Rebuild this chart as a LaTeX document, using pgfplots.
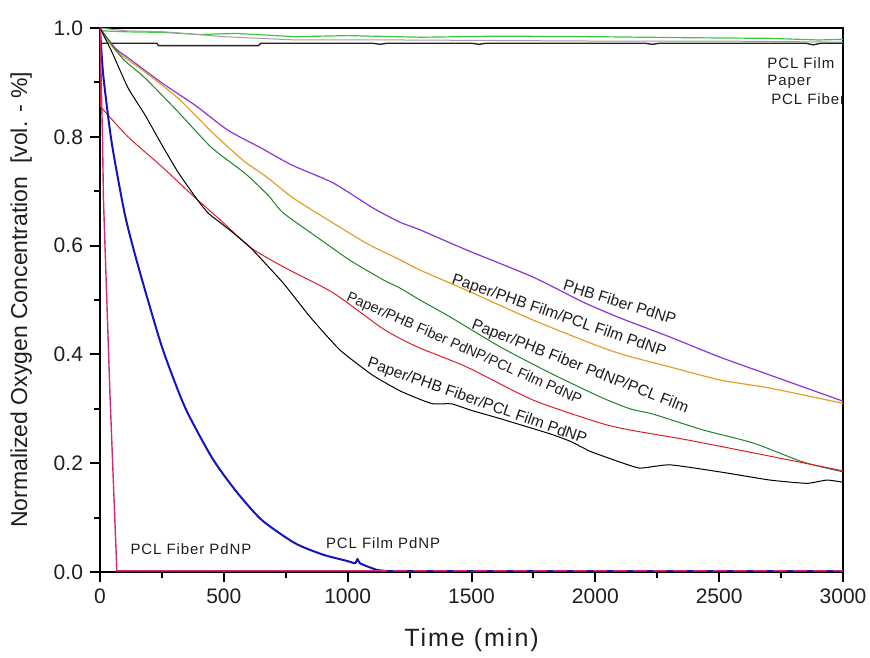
\documentclass[border=0pt]{standalone}
\usepackage{fontspec}
\setmainfont{Liberation Sans}
\usepackage{pgfplots}
\pgfplotsset{compat=1.18}

\definecolor{cPurple}{RGB}{140,50,220}
\definecolor{cOrange}{RGB}{225,160,40}
\definecolor{cGreen}{RGB}{30,130,40}
\definecolor{cRed}{RGB}{220,30,40}
\definecolor{cBlue}{RGB}{20,20,190}
\definecolor{cMag}{RGB}{215,40,120}
\definecolor{cLime}{RGB}{60,200,60}
\definecolor{cGray}{RGB}{165,155,170}
\definecolor{cText}{RGB}{30,30,30}

\begin{document}
\begin{tikzpicture}
\begin{axis}[
    scale only axis,
    width=371.5pt,
    height=272pt,
    xmin=0, xmax=3000,
    ymin=0, ymax=1.0,
    xtick={0,500,...,3000},
    ytick={0,0.2,...,1.0},
    minor x tick num=1,
    minor y tick num=1,
    tick align=outside,
    xtick pos=bottom,
    ytick pos=left,
    major tick length=5pt,
    minor tick length=3pt,
    tick style={black, line width=1pt},
    axis line style={black, line width=1.3pt},
    /pgf/number format/assume math mode=true,
    yticklabel style={/pgf/number format/.cd,fixed,fixed zerofill,precision=1},
    xticklabel style={/pgf/number format/.cd,fixed,1000 sep={}},
    ticklabel style={font=\fontsize{10.5}{12}\selectfont, text=cText},
    xlabel={Time (min)},
    ylabel={Normalized Oxygen Concentration\ \ [vol. - \%]},
    xlabel style={font=\fontsize{12.5}{15}\selectfont\addfontfeatures{LetterSpace=8}, text=cText,
        at={(axis description cs:0.5,-0.125)}, anchor=center},
    ylabel style={font=\fontsize{11.5}{14}\selectfont, text=cText,
        at={(axis description cs:-0.106,0.5)}, anchor=center},
    every axis plot/.append style={line join=round},
]
\coordinate (ll) at (rel axis cs:0,0);
\coordinate (ur) at (rel axis cs:1,1);

% PCL Film
\addplot[cLime, line width=0.6pt] coordinates {
(0,0.995) (100,0.993) (250,0.992) (400,0.988) (550,0.990) (787,0.984) (1000,0.986)
(1300,0.983) (1600,0.985) (2000,0.984) (2400,0.982) (2700,0.981) (2900,0.978) (3000,0.979)};
% Paper
\addplot[cGray, line width=0.5pt] coordinates {
(0,1.0) (100,0.995) (262,0.993) (500,0.984) (787,0.978) (1200,0.978) (1600,0.977)
(2000,0.976) (2500,0.976) (3000,0.974)};
% PCL Fiber
\addplot[black!85, line width=0.7pt] coordinates {
(0,0.972) (230,0.972) (236,0.9675) (640,0.9675) (650,0.972) (1100,0.972) (1130,0.970)
(1160,0.972) (1500,0.972) (1530,0.970) (1560,0.972) (2200,0.972) (2230,0.970) (2260,0.972)
(2850,0.972) (2880,0.969) (2910,0.972) (3000,0.972)};

% PHB Fiber PdNP
\addplot[cPurple, line width=0.6pt, smooth, tension=0.4] coordinates {
(0,1.0) (61,0.963) (114,0.945) (250,0.899) (384,0.858) (517,0.812) (652,0.779) (775,0.748)
(942,0.715) (1103,0.669) (1211,0.643) (1292,0.629) (1480,0.592) (1749,0.542) (1951,0.496)
(2100,0.467) (2301,0.432) (2503,0.395) (2705,0.362) (3000,0.314)};
% Paper/PHB Film/PCL Film PdNP
\addplot[cOrange, line width=0.6pt, smooth, tension=0.4] coordinates {
(0,1.0) (60,0.960) (182,0.919) (315,0.871) (451,0.809) (525,0.778) (585,0.754) (673,0.726)
(775,0.689) (875,0.660) (1077,0.604) (1211,0.574) (1292,0.555) (1480,0.518) (1749,0.463)
(2019,0.414) (2140,0.396) (2301,0.377) (2503,0.353) (2705,0.338) (3000,0.310)};
% Paper/PHB Fiber PdNP/PCL Film
\addplot[cGreen, line width=0.5pt, smooth, tension=0.4] coordinates {
(0,1.0) (89,0.945) (182,0.908) (315,0.846) (451,0.780) (585,0.733) (678,0.693) (740,0.660)
(875,0.616) (1009,0.573) (1144,0.537) (1211,0.522) (1292,0.500) (1413,0.469) (1615,0.414)
(1817,0.366) (2019,0.322) (2140,0.300) (2235,0.290) (2436,0.261) (2638,0.237) (2840,0.202)
(3000,0.184)};
% Paper/PHB Fiber PdNP/PCL Film PdNP
\addplot[cRed, line width=0.5pt] coordinates {(0,1.0) (3,0.855)};
\addplot[cRed, line width=0.5pt, smooth, tension=0.4] coordinates {
(3,0.855) (113,0.800) (250,0.745) (384,0.688) (491,0.645) (606,0.597) (740,0.561)
(942,0.513) (1143,0.447) (1280,0.414) (1480,0.377) (1749,0.316) (2019,0.274) (2140,0.261)
(2369,0.243) (2638,0.219) (3000,0.186)};
% Paper/PHB Fiber/PCL Film PdNP
\addplot[black, line width=0.5pt, smooth, tension=0.3] coordinates {
(0,1.0) (48,0.956) (113,0.890) (182,0.840) (250,0.785) (315,0.735) (384,0.690) (436,0.660)
(520,0.630) (606,0.597) (740,0.531) (848,0.469) (969,0.408) (1100,0.362) (1211,0.333)
(1300,0.316) (1346,0.309) (1420,0.309) (1500,0.297) (1615,0.282) (1817,0.254) (1900,0.240)
(1978,0.222) (2050,0.210) (2100,0.202) (2180,0.191) (2301,0.197) (2503,0.184) (2705,0.169)
(2854,0.163) (2935,0.169) (3000,0.165)};
% PCL Film PdNP
\addplot[cBlue, line width=1pt, smooth, tension=0.4] coordinates {
(0,1.0) (13,0.914) (47,0.790) (101,0.656) (155,0.561) (250,0.414) (343,0.303) (451,0.211)
(545,0.151) (652,0.096) (787,0.053) (900,0.032) (1000,0.020) (1030,0.016) (1040,0.024)
(1050,0.016) (1117,0.004) (1160,0.002)};
% PCL Fiber PdNP
\addplot[cMag, line width=0.7pt] coordinates {
(0,1.0) (10,0.80) (14,0.684) (40,0.33) (68,0.002) (3000,0.002)};
\addplot[cBlue, line width=1pt, dash pattern=on 3pt off 7pt] coordinates {
(1160,0.002) (3000,0.002)};

\begin{scope}[every node/.style={font=\fontsize{7.8}{9.4}\selectfont, text=cText, inner sep=0pt}]
\node[rotate=-17.5] at (axis cs:2099,0.496) {PHB Fiber PdNP};
\node[rotate=-19] at (axis cs:1853,0.470) {Paper/PHB Film/PCL Film PdNP};
\node[rotate=-21.5] at (axis cs:1938,0.377) {Paper/PHB Fiber PdNP/PCL Film};
\node[rotate=-24, font=\fontsize{7.2}{8.6}\selectfont] at (axis cs:1470,0.410) {Paper/PHB Fiber PdNP/PCL Film PdNP};
\node[rotate=-19.5] at (axis cs:1522,0.313) {Paper/PHB Fiber/PCL Film PdNP};
\end{scope}
\begin{scope}[every node/.style={font=\fontsize{7.5}{9}\selectfont\addfontfeatures{LetterSpace=6}, text=cText, inner sep=0pt}]
\node at (axis cs:367,0.042) {PCL Fiber PdNP};
\node at (axis cs:1143,0.053) {PCL Film PdNP};
\node[anchor=west] at (axis cs:2693,0.936) {PCL Film};
\node[anchor=west] at (axis cs:2693,0.901) {Paper};
\node[anchor=west] at (axis cs:2709,0.869) {PCL Fiber};
\end{scope}
\end{axis}
\pgfresetboundingbox
\path ([xshift=-50pt,yshift=-42.5pt]ll) rectangle ([xshift=13.5pt,yshift=14pt]ur);
\end{tikzpicture}
\end{document}
